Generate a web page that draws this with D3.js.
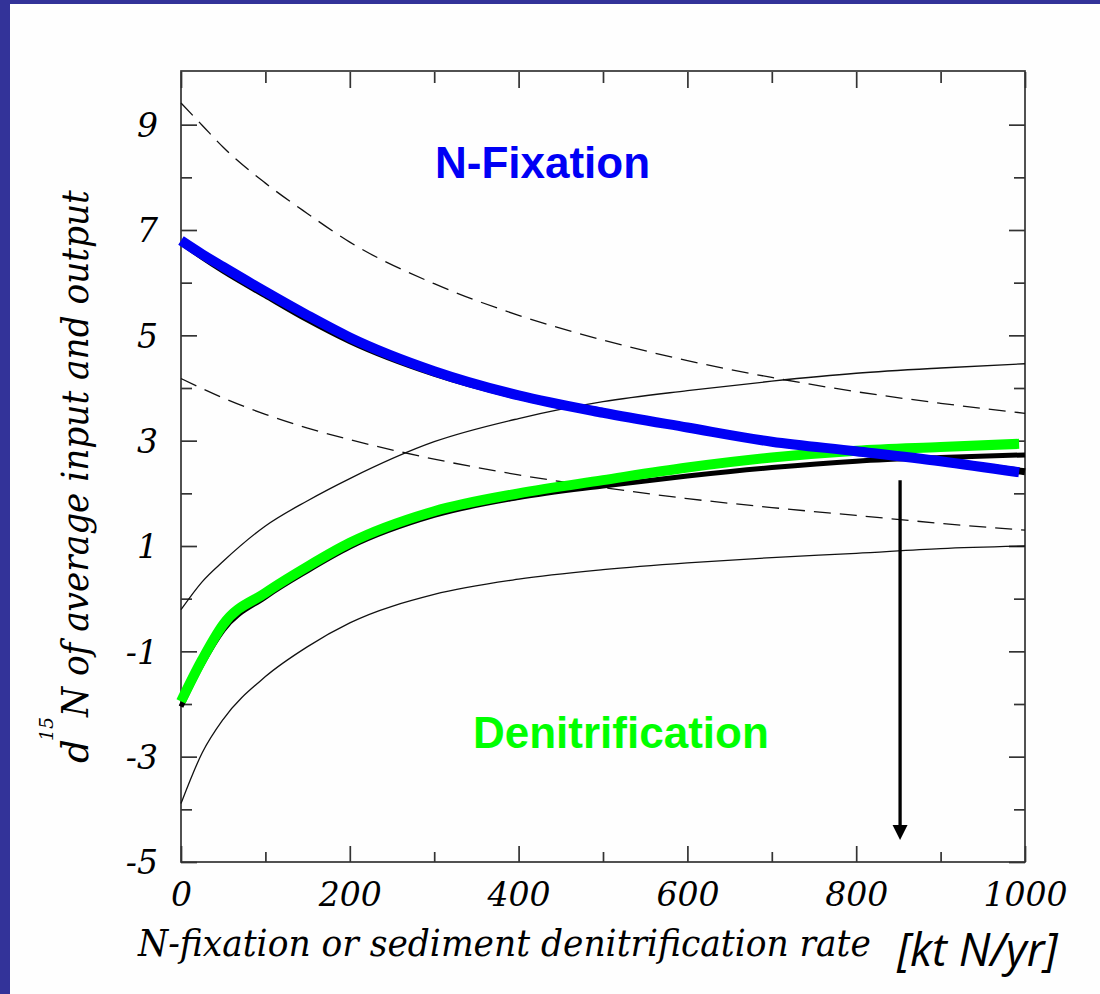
<!DOCTYPE html>
<html>
<head>
<meta charset="utf-8">
<script src="https://cdn.jsdelivr.net/npm/d3@7"></script>
<style>
  body { margin:0; background:#fff; }
  svg { display:block; }
</style>
</head>
<body>
<script>

/* Data */
/* ======================== */

// N-fixation or sediment denitrification rate (kt N/yr)
var rate = [0, 25, 50, 100, 150, 200, 300, 400, 500, 600, 700, 800, 900, 1000];
var rateThick = [0, 25, 50, 100, 150, 200, 300, 400, 500, 600, 700, 800, 900, 993];

// thin envelope curves
var upperDashed = [9.41, 8.99, 8.57, 7.89, 7.31, 6.77, 5.98, 5.38, 4.91, 4.52, 4.20, 3.93, 3.71, 3.52];
var lowerDashed = [4.18, 3.99, 3.81, 3.50, 3.24, 3.02, 2.65, 2.35, 2.11, 1.90, 1.73, 1.58, 1.43, 1.30];
var upperSolid  = [-0.21, 0.32, 0.71, 1.38, 1.86, 2.28, 2.98, 3.42, 3.74, 3.95, 4.13, 4.28, 4.38, 4.46];
var lowerSolid  = [-3.89, -2.93, -2.29, -1.48, -0.91, -0.46, 0.08, 0.37, 0.55, 0.68, 0.78, 0.86, 0.95, 1.00];

// thick black model curves (under the coloured ones)
var fixationModel = [6.78, 6.50, 6.24, 5.77, 5.31, 4.90, 4.28, 3.84, 3.52, 3.25, 2.98, 2.80, 2.61, 2.41];
var denitModel    = [-2.05, -1.25, -0.60, 0.03, 0.53, 0.98, 1.58, 1.92, 2.14, 2.33, 2.49, 2.61, 2.68, 2.73];

// coloured curves
var fixation        = [6.80, 6.54, 6.30, 5.83, 5.38, 4.96, 4.32, 3.86, 3.53, 3.25, 2.98, 2.80, 2.61, 2.40];
var denitrification = [-1.95, -1.16, -0.49, 0.11, 0.61, 1.06, 1.66, 2.00, 2.25, 2.49, 2.68, 2.81, 2.88, 2.94];

// axes
var yLabels = [-5, -3, -1, 1, 3, 5, 7, 9];
var yMinor = [-4, -2, 0, 2, 4, 6, 8];
var xLabels = [0, 200, 400, 600, 800, 1000];
var xMinor = [100, 300, 500, 700, 900];

// arrow marking the crossing
var arrowRate = 852;
var arrowFrom = 2.25;
var arrowTo = -4.58;


/* Set up */
/* ====== */

var width = 1100,
    height = 994;

var svg = d3.select('body')
  .append('svg')
    .attr('width', width)
    .attr('height', height);

svg.append('rect')
    .attr('width', width)
    .attr('height', height)
    .attr('fill', '#fefefe');

// slide border
svg.append('rect').attr('x', 0).attr('y', 0).attr('width', width).attr('height', 4).attr('fill', '#333399');
svg.append('rect').attr('x', 0).attr('y', 0).attr('width', 10).attr('height', height).attr('fill', '#333399');

var x = d3.scaleLinear().domain([0, 1000]).range([181, 1025]);
var y = d3.scaleLinear().domain([-5, 10]).range([862, 72]);

var line = d3.line()
    .x(function(d) { return x(d[0]); })
    .y(function(d) { return y(d[1]); })
    .curve(d3.curveMonotoneX);

function pts(xs, ys) {
  return xs.map(function(v, i) { return [v, ys[i]]; });
}

var serif = "'DejaVu Serif', serif";

// squeeze a text horizontally so it spans `len` pixels
function fitText(sel, tx, ty, len) {
  var w = sel.node().getComputedTextLength();
  sel.attr('transform', 'translate(' + tx + ',' + ty + ') scale(' + (len / w) + ',1)');
}


/* Axis titles and unit */
/* ==================== */

svg.append('text')
    .style('font-family', serif)
    .style('font-style', 'italic')
    .style('font-size', '37px')
    .text('N-fixation or sediment denitrification rate')
    .call(fitText, 138, 956, 733);

var yTitle = svg.append('g')
    .attr('transform', 'translate(88,763) rotate(-90)')
    .style('font-family', serif)
    .style('font-style', 'italic');

yTitle.append('text')
    .attr('x', 0)
    .style('font-size', '37px')
    .text('d');
yTitle.append('text')
    .attr('x', 22)
    .attr('y', -35)
    .style('font-size', '19px')
    .text('15');
yTitle.append('text')
    .style('font-size', '37px')
    .text('N of average input and output')
    .call(fitText, 46, 0, 527);

svg.append('text')
    .attr('x', 897)
    .attr('y', 966)
    .style('font-family', "'Open Sans', sans-serif")
    .style('font-style', 'italic')
    .style('font-size', '45px')
    .text('[kt N/yr]');


/* Axes */
/* ==== */

function styleAxis(sel) {
  sel.select('.domain').remove();
  sel.selectAll('.tick line').attr('stroke', '#333').attr('stroke-width', 1.7);
  sel.selectAll('.tick text')
      .attr('fill', '#000')
      .style('font-family', serif)
      .style('font-style', 'italic')
      .style('font-size', '33px');
}

var axes = svg.append('g');

axes.append('g')
    .attr('transform', 'translate(' + x(0) + ',0)')
    .call(d3.axisLeft(y).tickValues(yLabels).tickSize(-16).tickPadding(23)
      .tickFormat(function(d) { return String(d); }))
    .call(styleAxis)
    .selectAll('.tick text').attr('dy', '0.36em');

axes.append('g')
    .attr('transform', 'translate(' + x(0) + ',0)')
    .call(d3.axisLeft(y).tickValues(yMinor).tickSize(-11).tickFormat(''))
    .call(styleAxis);

axes.append('g')
    .attr('transform', 'translate(' + x(1000) + ',0)')
    .call(d3.axisRight(y).tickValues(yLabels).tickSize(-16).tickFormat(''))
    .call(styleAxis);

axes.append('g')
    .attr('transform', 'translate(' + x(1000) + ',0)')
    .call(d3.axisRight(y).tickValues(yMinor).tickSize(-11).tickFormat(''))
    .call(styleAxis);

axes.append('g')
    .attr('transform', 'translate(0,' + y(-5) + ')')
    .call(d3.axisBottom(x).tickValues(xLabels).tickSize(-16).tickPadding(21)
      .tickFormat(function(d) { return String(d); }))
    .call(styleAxis);

axes.append('g')
    .attr('transform', 'translate(0,' + y(-5) + ')')
    .call(d3.axisBottom(x).tickValues(xMinor).tickSize(-10).tickFormat(''))
    .call(styleAxis);

axes.append('g')
    .attr('transform', 'translate(0,' + y(10) + ')')
    .call(d3.axisTop(x).tickValues(xLabels).tickSize(-16).tickFormat(''))
    .call(styleAxis);

axes.append('g')
    .attr('transform', 'translate(0,' + y(10) + ')')
    .call(d3.axisTop(x).tickValues(xMinor).tickSize(-11).tickFormat(''))
    .call(styleAxis);

// plot frame
svg.append('rect')
    .attr('x', x(0))
    .attr('y', y(10) - 1)
    .attr('width', x(1000) - x(0))
    .attr('height', y(-5) - y(10) + 1)
    .attr('fill', 'none')
    .attr('stroke', '#333')
    .attr('stroke-width', 1.7);


/* Curves */
/* ====== */

var thin = [
  { v: upperDashed, dash: '17,9' },
  { v: lowerDashed, dash: '17,9' },
  { v: upperSolid, dash: null },
  { v: lowerSolid, dash: null }
];

svg.selectAll('path.thin')
    .data(thin)
    .enter().append('path')
    .attr('class', 'thin')
    .attr('d', function(d) { return line(pts(rate, d.v)); })
    .attr('fill', 'none')
    .attr('stroke', '#111')
    .attr('stroke-width', 1.3)
    .attr('stroke-dasharray', function(d) { return d.dash; });

svg.append('path')
    .attr('d', line(pts(rate, fixationModel)))
    .attr('fill', 'none')
    .attr('stroke', '#000')
    .attr('stroke-width', 7);

svg.append('path')
    .attr('d', line(pts(rate, denitModel)))
    .attr('fill', 'none')
    .attr('stroke', '#000')
    .attr('stroke-width', 5);

svg.append('path')
    .attr('d', line(pts(rateThick, denitrification)))
    .attr('fill', 'none')
    .attr('stroke', '#00ff00')
    .attr('stroke-width', 10);

svg.append('path')
    .attr('d', line(pts(rateThick, fixation)))
    .attr('fill', 'none')
    .attr('stroke', '#0000f5')
    .attr('stroke-width', 10);


/* Annotations */
/* =========== */

svg.append('text')
    .attr('x', 435)
    .attr('y', 178)
    .attr('fill', '#0000f5')
    .style('font-family', "'Liberation Sans', Arial, sans-serif")
    .style('font-weight', 'bold')
    .style('font-size', '44px')
    .text('N-Fixation');

svg.append('text')
    .attr('x', 473)
    .attr('y', 748)
    .attr('fill', '#00ff00')
    .style('font-family', "'Liberation Sans', Arial, sans-serif")
    .style('font-weight', 'bold')
    .style('font-size', '44px')
    .text('Denitrification');

var ax = x(arrowRate),
    tip = y(arrowTo);

svg.append('line')
    .attr('x1', ax)
    .attr('x2', ax)
    .attr('y1', y(arrowFrom))
    .attr('y2', tip - 12)
    .attr('stroke', '#000')
    .attr('stroke-width', 3.3);

svg.append('path')
    .attr('d', 'M' + (ax - 7.5) + ',' + (tip - 15) + 'L' + (ax + 7.5) + ',' + (tip - 15) + 'L' + ax + ',' + tip + 'Z')
    .attr('fill', '#000');

</script>
</body>
</html>
